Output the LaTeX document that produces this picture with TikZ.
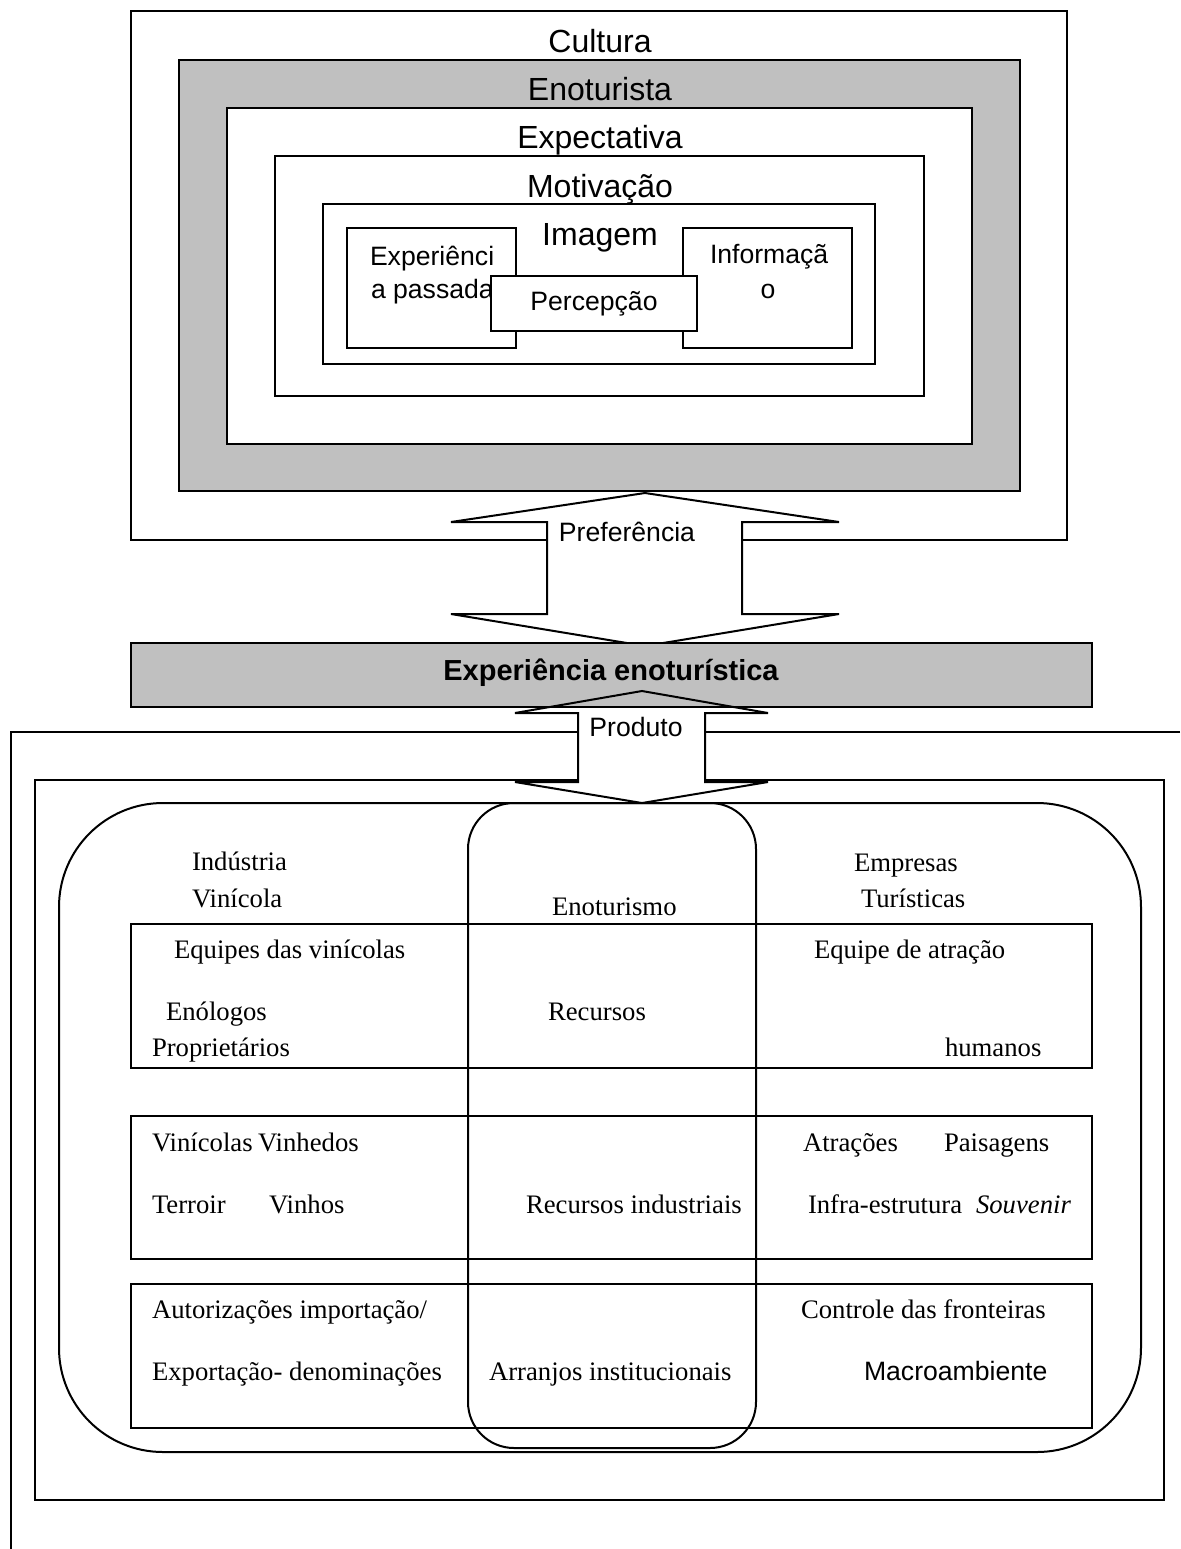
\documentclass[tikz,border=0pt]{standalone}
\usepackage{fontspec}
\setmainfont{Liberation Serif}
\newfontfamily\arialf{Liberation Sans}
\definecolor{silverfill}{RGB}{192,192,192}
\begin{document}
\begin{tikzpicture}[x=0.5pt,y=-0.5pt,line width=1pt,
  box/.style={draw=black,fill=white},
  graybox/.style={draw=black,fill=silverfill},
  biglab/.style={font=\arialf\fontsize{16}{19}\selectfont,inner sep=0,anchor=base},
  midlab/.style={font=\arialf\fontsize{13.3}{16}\selectfont,inner sep=0},
  timlab/.style={font=\fontsize{13.35}{16}\selectfont,inner sep=0,anchor=base west}]
\useasboundingbox (0,0) rectangle (1180,1549);

% ---- nested boxes (top) ----
\draw[box] (131,11) rectangle (1067,540);
\draw[graybox] (179,60) rectangle (1020,491);
\draw[box] (227,108) rectangle (972,444);
\draw[box] (275,156) rectangle (924,396);
\draw[box] (323,204) rectangle (875,364);
\draw[box] (347,228) rectangle (516,348);
\draw[box] (683,228) rectangle (852,348);

\node[biglab] (cultura) at (600,52) {Cultura};
\node[biglab] (enoturista) at (600,100) {Enoturista};
\node[biglab] (expectativa) at (600,148) {Expectativa};
\node[biglab] (motivacao) at (600,197) {Motivação};
\node[biglab] (imagem) at (600,245) {Imagem};
\node[midlab,anchor=base west] (exp1) at (369,265) {Experiênci};
\node[midlab,anchor=base west] (exp2) at (370,298) {a passada};
\node[midlab,anchor=base west] (inf1) at (709,263) {Informaçã};
\node[midlab,anchor=base] (inf2) at (768,298) {o};

\draw[box] (491,276) rectangle (697,331);
\node[midlab,anchor=base] (perc) at (594,310) {Percepção};

% ---- Preferencia arrow ----
\draw[box] (645,493) -- (839,522) -- (742,522) -- (742,614) -- (839,614)
  -- (645,646) -- (451,614) -- (547,614) -- (547,522) -- (451,522) -- cycle;
\node[midlab,anchor=base] (pref) at (627,541) {Preferência};

% ---- Produto frame ----
\draw (1180,732) -- (11,732) -- (11,1549);
\draw (35,780) rectangle (1164,1500);

% ---- Produto arrow (fill), bar, outline ----
\fill[white] (642,691) -- (768,713) -- (705,713) -- (705,782) -- (768,782)
  -- (642,803) -- (515,782) -- (578,782) -- (578,713) -- (515,713) -- cycle;
\draw[graybox] (131,643) rectangle (1092,707);
\node[font=\arialf\bfseries\fontsize{14.5}{17}\selectfont,inner sep=0,anchor=base] (expeno) at (611,680) {Experiência enoturística};
\draw (642,691) -- (768,713) -- (705,713) -- (705,782) -- (768,782)
  -- (642,803) -- (515,782) -- (578,782) -- (578,713) -- (515,713) -- cycle;
\node[midlab,anchor=base] (produto) at (636,736) {Produto};

% ---- bottom section ----
\draw[rounded corners=52pt] (59,803) rectangle (1141,1452);
\draw[rounded corners=23pt] (468,803) rectangle (756,1448);
\draw (131,924) rectangle (1092,1068);
\draw (131,1116) rectangle (1092,1259);
\draw (131,1284) rectangle (1092,1428);

\node[timlab] (ind) at (191,870) {Indústria};
\node[timlab] (vinicola) at (191,907) {Vinícola};
\node[timlab] (enoturismo) at (551,915) {Enoturismo};
\node[timlab] (empresas) at (853,871) {Empresas};
\node[timlab] (turisticas) at (860,907) {Turísticas};

\node[timlab] (equipes) at (173,958) {Equipes das vinícolas};
\node[timlab] (equipe) at (813,958) {Equipe de atração};
\node[timlab] (enologos) at (165,1020) {Enólogos};
\node[timlab] (recursos) at (547,1020) {Recursos};
\node[timlab] (propr) at (151,1056) {Proprietários};
\node[timlab] (humanos) at (944,1056) {humanos};

\node[timlab] (vinicolas) at (151,1151) {Vinícolas};
\node[timlab] (vinhedos) at (257,1151) {Vinhedos};
\node[timlab] (atracoes) at (802,1151) {Atrações};
\node[timlab] (paisagens) at (943,1151) {Paisagens};
\node[timlab] (terroir) at (151,1213) {Terroir};
\node[timlab] (vinhos) at (268,1213) {Vinhos};
\node[timlab] (recind) at (525,1213) {Recursos industriais};
\node[timlab] (infra) at (807,1213) {Infra-estrutura};
\node[timlab] (souvenir) at (975,1213) {\itshape Souvenir};

\node[timlab] (autor) at (151,1318) {Autorizações importação/};
\node[timlab] (controle) at (800,1318) {Controle das fronteiras};
\node[timlab] (export) at (151,1380) {Exportação- denominações};
\node[timlab] (arranjos) at (488,1380) {Arranjos institucionais};
\node[font=\arialf\fontsize{13.3}{16}\selectfont,inner sep=0,anchor=base west] (macro) at (863,1380) {Macroambiente};
\end{tikzpicture}
\end{document}
